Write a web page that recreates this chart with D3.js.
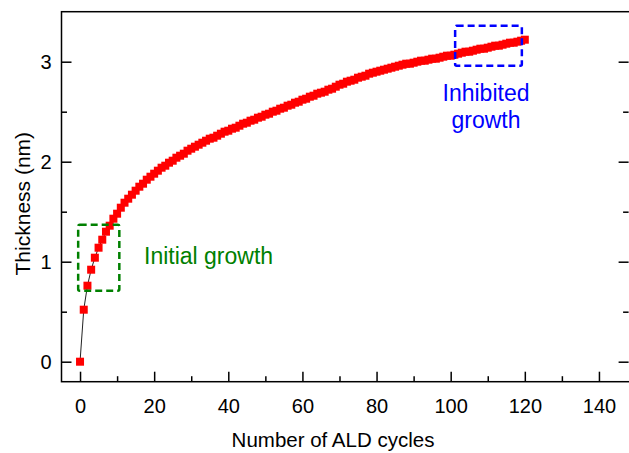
<!DOCTYPE html>
<html>
<head>
<meta charset="utf-8">
<script src="https://cdn.jsdelivr.net/npm/d3@7"></script>
<style>
  html, body { margin: 0; padding: 0; background: #fff; }
  svg { display: block; font-family: Arial, "Liberation Sans", Helvetica, sans-serif; }
</style>
</head>
<body>
<svg id="chart" width="629" height="453"></svg>
<script>
// ALD film thickness versus number of cycles
const cycles = d3.range(0, 121);
const thickness = [
  0.00, 0.52, 0.76, 0.92, 1.04, 1.14, 1.22, 1.30, 1.36, 1.43,
  1.48, 1.54, 1.59, 1.63, 1.67, 1.71, 1.75, 1.78, 1.82, 1.85,
  1.88, 1.91, 1.94, 1.96, 1.99, 2.01, 2.04, 2.06, 2.08, 2.11,
  2.13, 2.15, 2.17, 2.19, 2.21, 2.23, 2.24, 2.26, 2.28, 2.30,
  2.31, 2.33, 2.34, 2.36, 2.38, 2.39, 2.41, 2.42, 2.44, 2.45,
  2.47, 2.48, 2.50, 2.51, 2.53, 2.54, 2.56, 2.57, 2.59, 2.60,
  2.62, 2.63, 2.65, 2.66, 2.68, 2.69, 2.70, 2.72, 2.73, 2.75,
  2.77, 2.78, 2.80, 2.81, 2.82, 2.84, 2.85, 2.86, 2.88, 2.89,
  2.90, 2.91, 2.92, 2.93, 2.94, 2.95, 2.96, 2.97, 2.98, 2.98,
  2.99, 3.00, 3.01, 3.01, 3.02, 3.03, 3.03, 3.04, 3.05, 3.06,
  3.06, 3.07, 3.08, 3.09, 3.10, 3.10, 3.11, 3.12, 3.13, 3.13,
  3.14, 3.15, 3.16, 3.16, 3.17, 3.18, 3.19, 3.19, 3.20, 3.21,
  3.22
];

const xTicks = [0, 20, 40, 60, 80, 100, 120, 140];
const xMinorTicks = [10, 30, 50, 70, 90, 110, 130];
const yTicks = [0, 1, 2, 3];
const yMinorTicks = [0.5, 1.5, 2.5];

// Highlight boxes: [x0, x1, y0, y1] in data units
const initialBox = [-0.5, 10.6, 0.71, 1.37];
const inhibitedBox = [101.2, 119.2, 2.96, 3.36];

const svg = d3.select("#chart");
const x = d3.scaleLinear().domain([-5, 148]).range([61.5, 628.6]);
const y = d3.scaleLinear().domain([-0.2, 3.5]).range([381.7, 11.7]);
const x0 = x.range()[0], x1 = x.range()[1];
const y0 = y.range()[0], y1 = y.range()[1];

const axisColor = "#000";
const fmt = d3.format("d");

// frame (left, bottom, top, right)
svg.append("rect")
  .attr("x", x0).attr("y", y1)
  .attr("width", x1 - x0 + 2).attr("height", y0 - y1)
  .attr("fill", "none").attr("stroke", axisColor).attr("stroke-width", 1.5);

function styleTicks(g) {
  g.select(".domain").remove();
  g.selectAll(".tick line").attr("stroke", axisColor).attr("stroke-width", 1.5);
  g.selectAll(".tick text").attr("font-size", 20).attr("fill", "#000")
    .attr("font-family", "Arial, 'Liberation Sans', sans-serif");
}

// bottom axis: inward ticks
svg.append("g").attr("transform", `translate(0,${y0})`)
  .call(d3.axisBottom(x).tickValues(xTicks).tickFormat(fmt).tickSizeInner(-10).tickSizeOuter(0).tickPadding(17))
  .call(styleTicks);
svg.append("g").attr("transform", `translate(0,${y0})`)
  .call(d3.axisBottom(x).tickValues(xMinorTicks).tickSizeInner(-5.5).tickSizeOuter(0).tickFormat(""))
  .call(styleTicks);

// left axis: inward ticks
svg.append("g").attr("transform", `translate(${x0},0)`)
  .call(d3.axisLeft(y).tickValues(yTicks).tickFormat(fmt).tickSizeInner(-10).tickSizeOuter(0).tickPadding(10))
  .call(styleTicks);
svg.append("g").attr("transform", `translate(${x0},0)`)
  .call(d3.axisLeft(y).tickValues(yMinorTicks).tickSizeInner(-5.5).tickSizeOuter(0).tickFormat(""))
  .call(styleTicks);

// right axis mirror ticks
svg.append("g").attr("transform", `translate(${x1},0)`)
  .call(d3.axisRight(y).tickValues(yTicks).tickSizeInner(-10).tickSizeOuter(0).tickFormat(""))
  .call(styleTicks);
svg.append("g").attr("transform", `translate(${x1},0)`)
  .call(d3.axisRight(y).tickValues(yMinorTicks).tickSizeInner(-5.5).tickSizeOuter(0).tickFormat(""))
  .call(styleTicks);

// axis titles
svg.append("text")
  .attr("x", 333).attr("y", 447)
  .attr("text-anchor", "middle").attr("font-size", 20.5).attr("fill", "#000")
  .text("Number of ALD cycles");
svg.append("text")
  .attr("transform", `translate(30,${(y(0) + y(3)) / 2 - 8}) rotate(-90)`)
  .attr("text-anchor", "middle").attr("font-size", 21).attr("fill", "#000")
  .text("Thickness (nm)");

// connecting line and square markers
const pts = cycles.map((c, i) => [c, thickness[i]]);
svg.append("path")
  .datum(pts)
  .attr("fill", "none").attr("stroke", "#222").attr("stroke-width", 1)
  .attr("d", d3.line().x(d => x(d[0])).y(d => y(d[1])));

const ms = 8;
svg.append("g").selectAll("rect")
  .data(pts)
  .join("rect")
  .attr("x", d => x(d[0]) - ms / 2)
  .attr("y", d => y(d[1]) - ms / 2)
  .attr("width", ms).attr("height", ms)
  .attr("fill", "#ff0000");

// highlight boxes
function box(b, color) {
  svg.append("rect")
    .attr("x", x(b[0])).attr("y", y(b[3]))
    .attr("width", x(b[1]) - x(b[0])).attr("height", y(b[2]) - y(b[3]))
    .attr("rx", 1.5)
    .attr("fill", "none").attr("stroke", color).attr("stroke-width", 2.5)
    .attr("stroke-dasharray", "7,4");
}
box(initialBox, "#008000");
box(inhibitedBox, "#0000ff");

// annotations
svg.append("text")
  .attr("x", 144).attr("y", 264)
  .attr("font-size", 23).attr("fill", "#008000")
  .text("Initial growth");
const inh = svg.append("text")
  .attr("text-anchor", "middle").attr("font-size", 23).attr("fill", "#0000ff");
inh.append("tspan").attr("x", 486).attr("y", 101).text("Inhibited");
inh.append("tspan").attr("x", 486).attr("y", 128).text("growth");
</script>
</body>
</html>
